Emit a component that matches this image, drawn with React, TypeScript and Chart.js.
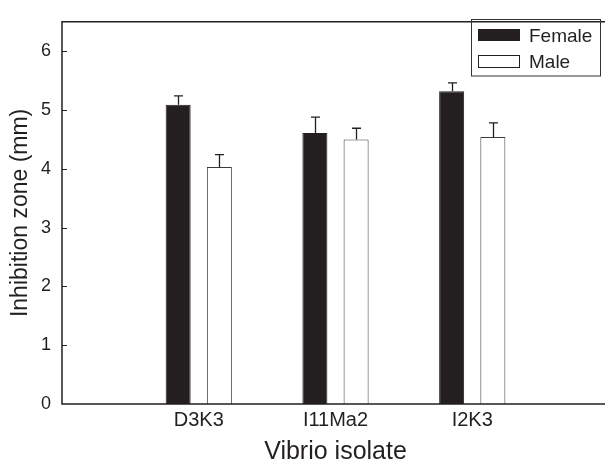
import React, { useEffect, useRef } from 'react';
import { Chart, registerables } from 'chart.js';

Chart.register(...registerables);

// ---- data ----
const categories = ['D3K3', 'I11Ma2', 'I2K3'];
const categoryPositions = [1, 2, 3];
const femaleValues = [5.09, 4.61, 5.32];
const maleValues = [4.03, 4.5, 4.54];
const femaleErrors = [0.15, 0.27, 0.14];
const maleErrors = [0.21, 0.19, 0.24];
const yTicks = [0, 1, 2, 3, 4, 5, 6];
const seriesNames = ['Female', 'Male'];

const INK = '#231f20';
const FONT = "'Liberation Sans', Arial, Helvetica, sans-serif";

const decorPlugin = {
  id: 'decor',
  afterDatasetsDraw(chart: any) {
    const ctx = chart.ctx;
    const yScale = chart.scales.y;
    const vals = [femaleValues, maleValues];
    const errs = [femaleErrors, maleErrors];
    ctx.save();
    ctx.strokeStyle = INK;
    ctx.lineWidth = 1.3;
    for (let d = 0; d < 2; d++) {
      const meta = chart.getDatasetMeta(d);
      meta.data.forEach((bar: any, j: number) => {
        const top = yScale.getPixelForValue(vals[d][j] + errs[d][j]);
        const x = Math.round(bar.x) + 0.5;
        ctx.beginPath();
        ctx.moveTo(x, bar.y);
        ctx.lineTo(x, top);
        ctx.moveTo(x - 4.5, top);
        ctx.lineTo(x + 4.5, top);
        ctx.stroke();
      });
    }
    ctx.restore();
  },
  afterDraw(chart: any) {
    const ctx = chart.ctx;
    const { left, right, top, bottom } = chart.chartArea;
    const yScale = chart.scales.y;
    ctx.save();
    ctx.strokeStyle = INK;
    ctx.lineWidth = 1.5;
    ctx.beginPath();
    ctx.moveTo(right + 20, top);
    ctx.lineTo(left, top);
    ctx.lineTo(left, bottom);
    ctx.lineTo(right + 20, bottom);
    ctx.stroke();
    // inward y tick marks
    ctx.lineWidth = 1;
    yTicks.forEach((t) => {
      if (t === 0) return;
      const y = Math.round(yScale.getPixelForValue(t)) + 0.5;
      ctx.beginPath();
      ctx.moveTo(left, y);
      ctx.lineTo(left + 5, y);
      ctx.stroke();
    });
    // legend
    const lx = 471.5, ly = 19.5, lw = 129, lh = 56.5;
    ctx.lineWidth = 1;
    ctx.strokeStyle = '#333';
    ctx.strokeRect(lx, ly, lw, lh);
    ctx.fillStyle = INK;
    ctx.fillRect(478, 29, 42, 12);
    ctx.strokeStyle = INK;
    ctx.strokeRect(478.5, 55.5, 41, 12);
    ctx.font = `19px ${FONT}`;
    ctx.textBaseline = 'alphabetic';
    ctx.textAlign = 'left';
    ctx.fillStyle = INK;
    ctx.fillText(seriesNames[0], 529, 42);
    ctx.fillText(seriesNames[1], 529, 67.5);
    ctx.restore();
  },
};

export default function App() {
  const ref = useRef<HTMLCanvasElement>(null);
  useEffect(() => {
    if (!ref.current) return;
    const chart = new Chart(ref.current, {
      type: 'bar',
      data: {
        datasets: [
          {
            label: seriesNames[0],
            data: femaleValues.map((y, i) => ({ x: categoryPositions[i], y })),
            backgroundColor: INK,
            borderColor: INK,
            borderWidth: 1,
          },
          {
            label: seriesNames[1],
            data: maleValues.map((y, i) => ({ x: categoryPositions[i], y })),
            backgroundColor: '#ffffff',
            borderColor: '#3a3a3a',
            borderWidth: 1,
          },
        ],
      },
      options: {
        responsive: false,
        devicePixelRatio: 1,
        animation: false,
        categoryPercentage: 0.6026,
        barPercentage: 0.607,
        layout: { padding: { left: 0, top: 10, right: 16, bottom: 0 } },
        plugins: { legend: { display: false }, tooltip: { enabled: false } },
        scales: {
          x: {
            type: 'linear',
            min: 0,
            max: 4,
            offset: false,
            grid: { display: false, drawTicks: false },
            border: { display: false },
            afterBuildTicks: (s: any) => {
              s.ticks = categoryPositions.map((v) => ({ value: v }));
            },
            afterFit: (s: any) => {
              s.height = 59;
            },
            ticks: {
              autoSkip: false,
              maxRotation: 0,
              padding: 4,
              color: INK,
              font: { family: FONT, size: 20 },
              callback: (v: any) => categories[categoryPositions.indexOf(Number(v))] ?? '',
            },
            title: {
              display: true,
              text: 'Vibrio isolate',
              color: INK,
              font: { family: FONT, size: 25, lineHeight: 1 },
              padding: { top: 0, bottom: -2 },
            },
          },
          y: {
            type: 'linear',
            min: 0,
            max: 6.5,
            grid: { display: false, drawTicks: false },
            border: { display: false },
            afterBuildTicks: (s: any) => {
              s.ticks = yTicks.map((v) => ({ value: v }));
            },
            afterFit: (s: any) => {
              s.width = 62;
            },
            ticks: {
              padding: 11,
              color: INK,
              font: { family: FONT, size: 18 },
            },
            title: {
              display: true,
              text: 'Inhibition zone (mm)',
              color: INK,
              font: { family: FONT, size: 23, lineHeight: 1 },
              padding: { top: 9, bottom: 0 },
            },
          },
        },
      },
      plugins: [decorPlugin],
    } as any);
    return () => chart.destroy();
  }, []);
  return (
    <div
      style={{
        position: 'fixed',
        left: 0,
        top: 0,
        width: 605,
        height: 463,
        overflow: 'hidden',
        background: '#fff',
      }}
    >
      <canvas ref={ref} width={625} height={463} style={{ display: 'block', width: 625, height: 463 }} />
    </div>
  );
}
